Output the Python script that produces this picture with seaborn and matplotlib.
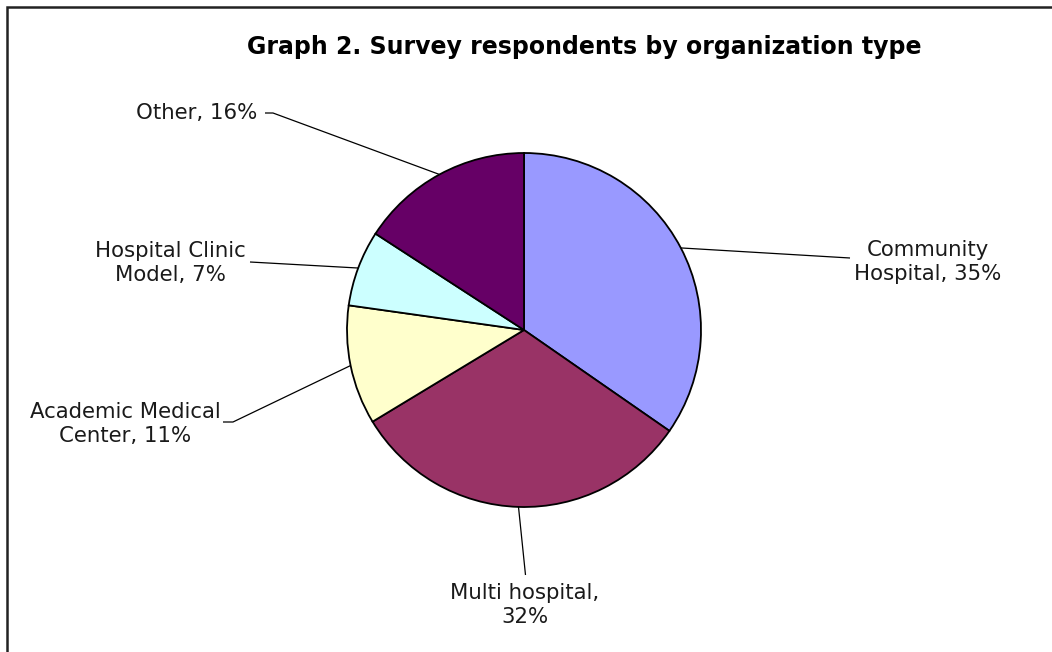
import numpy as np
import matplotlib
matplotlib.use("Agg")
import matplotlib.pyplot as plt
import seaborn as sns

# Survey respondents by organization type (share of respondents, %)
categories = ["Community Hospital", "Multi hospital", "Academic Medical Center",
              "Hospital Clinic Model", "Other"]
shares = [35, 32, 11, 7, 16]
label_lines = ["Community\nHospital, {}%", "Multi hospital,\n{}%",
               "Academic Medical\nCenter, {}%", "Hospital Clinic\nModel, {}%",
               "Other, {}%"]
colors = ["#9999FF", "#993366", "#FFFFCC", "#CCFFFF", "#660066"]

sns.set_theme(style="white")
plt.rcParams["font.family"] = ["DejaVu Sans"]

W, H = 1052, 652
fig = plt.figure(figsize=(W / 100, H / 100), dpi=100)
ax = fig.add_axes([0, 0, 1, 1])

# pie placed in pixel space (y measured upward)
cx, cy, r = 524, H - 330, 177
wedges, _ = ax.pie(shares, colors=colors, startangle=90, counterclock=False,
                   center=(cx, cy), radius=r,
                   wedgeprops=dict(edgecolor="black", linewidth=1.3))
ax.set_xlim(0, W)
ax.set_ylim(0, H)
ax.set_aspect("auto")
ax.axis("off")

total = sum(shares)
pct = [int(round(100 * s / total)) for s in shares]

# text anchor and leader-line start (end of short horizontal stub), in pixels from top-left
label_pos = [(928, 262), (525, 605), (125, 424), (170, 263), (197, 113)]
leader_start = [(850, 258), (525.5, 575), (223, 422), (250, 262), (265, 113)]
stub = [0, 0, 10, 0, 8]

txt_color = "#1a1a1a"
for w, txt, (lx, ly), (sx, sy), st, p in zip(wedges, label_lines, label_pos,
                                             leader_start, stub, pct):
    mid = np.deg2rad((w.theta1 + w.theta2) / 2)
    ex, ey = cx + r * np.cos(mid), cy + r * np.sin(mid)
    pts_x = [sx, sx + st, ex]
    pts_y = [H - sy, H - sy, ey]
    ax.plot(pts_x, pts_y, color="black", linewidth=0.9, solid_capstyle="butt")
    ax.text(lx, H - ly, txt.format(p), ha="center", va="center",
            multialignment="center", fontsize=15.3, color=txt_color,
            linespacing=1.25)

ax.text(584, H - 47, "Graph 2. Survey respondents by organization type",
        ha="center", va="center", fontsize=17, fontweight="bold", color="black")

# outer chart frame (right and bottom edges fall outside the canvas)
fig.patches.append(plt.Rectangle((7 / W, -0.1), 1.2, (H - 6.5) / H + 0.1,
                                 transform=fig.transFigure, fill=False,
                                 edgecolor="#222222", linewidth=1.8))

fig.savefig("out.png", dpi=100, facecolor="white")
